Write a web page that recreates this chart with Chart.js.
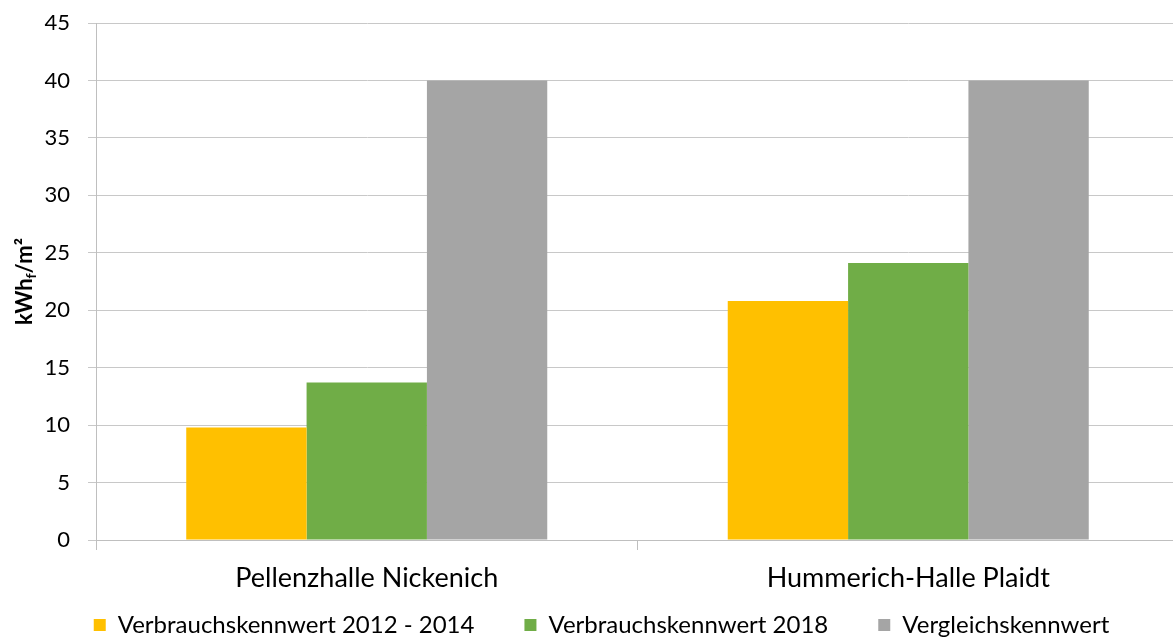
<!DOCTYPE html>
<html>
<head>
<meta charset="utf-8">
<script src="https://cdn.jsdelivr.net/npm/chart.js@4.4.1/dist/chart.umd.min.js"></script>
<style>
  html, body { margin: 0; padding: 0; background: #fff; overflow: hidden; }
  #wrap { width: 1185px; height: 639px; }
</style>
</head>
<body>
<div id="wrap"><canvas id="c" width="1185" height="639"></canvas></div>
<script>
const categories = ['Pellenzhalle Nickenich', 'Hummerich-Halle Plaidt'];
const seriesNames = ['Verbrauchskennwert 2012 - 2014', 'Verbrauchskennwert 2018', 'Vergleichskennwert'];
const values2012_2014 = [9.8, 20.8];
const values2018 = [13.7, 24.1];
const valuesVergleich = [40, 40];
const yTicks = [0, 5, 10, 15, 20, 25, 30, 35, 40, 45];
const colors = ['#FFC000', '#70AD47', '#A5A5A5'];
const FONT = 'Lato, "Open Sans", sans-serif';

const yTitlePlugin = {
  id: 'yTitle',
  afterDraw(chart) {
    const ctx = chart.ctx;
    const area = chart.chartArea;
    const cy = (area.top + area.bottom) / 2;
    ctx.save();
    ctx.translate(32, cy);
    ctx.rotate(-Math.PI / 2);
    ctx.fillStyle = '#000';
    ctx.textBaseline = 'alphabetic';
    const big = 'bold 22px ' + FONT;
    const small = 'bold 14px ' + FONT;
    const parts = [['kWh', big, 0], ['f', small, 4], ['/m²', big, 0]];
    let total = 0;
    parts.forEach(p => { ctx.font = p[1]; total += ctx.measureText(p[0]).width; });
    let x = -total / 2;
    parts.forEach(p => {
      ctx.font = p[1];
      ctx.fillText(p[0], x, p[2]);
      x += ctx.measureText(p[0]).width;
    });
    ctx.restore();
  }
};

new Chart(document.getElementById('c'), {
  type: 'bar',
  data: {
    labels: categories,
    datasets: [
      { label: seriesNames[0], data: values2012_2014, backgroundColor: colors[0] },
      { label: seriesNames[1], data: values2018, backgroundColor: colors[1] },
      { label: seriesNames[2], data: valuesVergleich, backgroundColor: colors[2] }
    ]
  },
  options: {
    responsive: false,
    animation: false,
    devicePixelRatio: 1,
    layout: { padding: { left: 24, top: 23, right: 6, bottom: 0 } },
    datasets: { bar: { barPercentage: 1, categoryPercentage: 0.6667, borderWidth: 0 } },
    plugins: {
      legend: {
        position: 'bottom',
        maxHeight: 76,
        labels: {
          font: { family: FONT, size: 24 },
          color: '#000',
          boxWidth: 12,
          boxHeight: 12,
          padding: 50
        }
      },
      tooltip: { enabled: false }
    },
    scales: {
      x: {
        offset: true,
        grid: { offset: true, drawOnChartArea: false, color: '#BFBFBF', tickLength: 10 },
        border: { color: '#BFBFBF' },
        ticks: { font: { family: FONT, size: 27 }, color: '#000', padding: 12 },
        afterFit(s) {
          s.height = 23;
          s._computeLabelArea = function () { return undefined; };
        }
      },
      y: {
        min: 0, max: 45,
        afterBuildTicks(s) { s.ticks = yTicks.map(v => ({ value: v })); },
        grid: { color: '#C8C8C8', tickLength: 8 },
        border: { color: '#BFBFBF' },
        ticks: { font: { family: FONT, size: 22 }, color: '#000', padding: 18 },
        afterFit(s) { s.width = 72; s.paddingTop = 0; s.paddingBottom = 0; }
      }
    }
  },
  plugins: [yTitlePlugin]
});
</script>
</body>
</html>
